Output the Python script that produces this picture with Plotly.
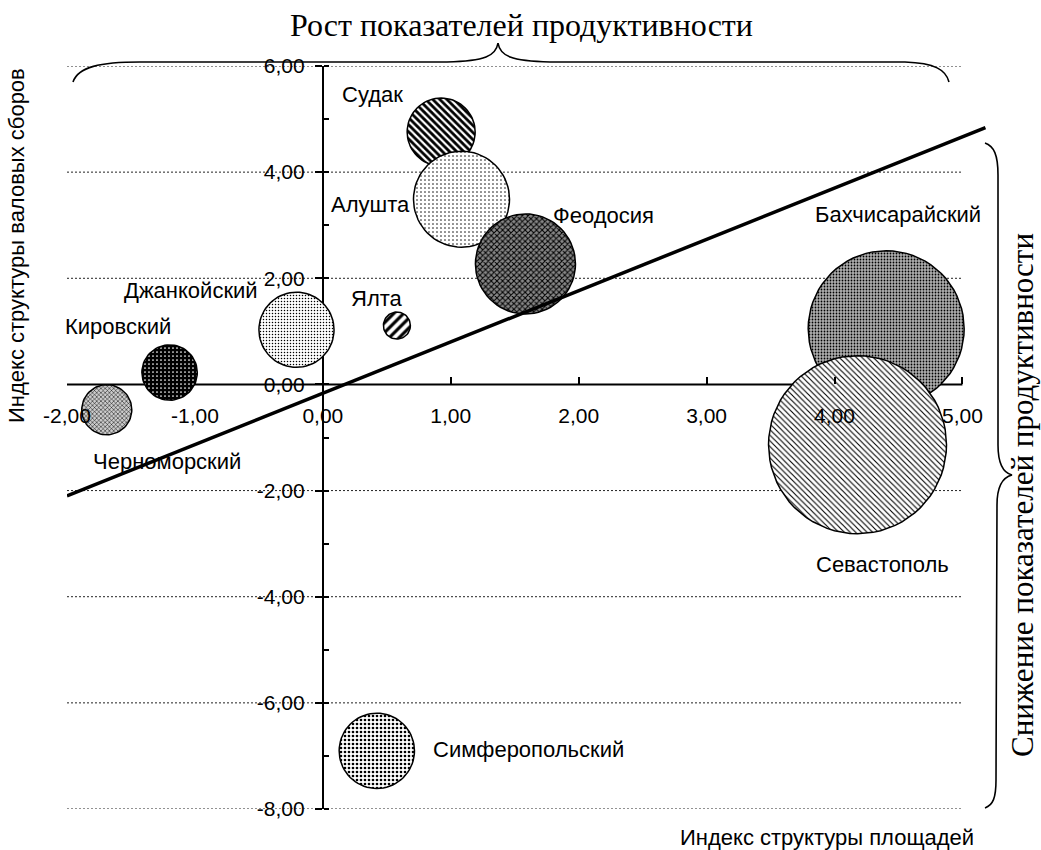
import numpy as np
import plotly.graph_objects as go

# ---------------- data ----------------
districts = ["Судак", "Алушта", "Феодосия", "Бахчисарайский", "Севастополь",
             "Ялта", "Джанкойский", "Кировский", "Черноморский", "Симферопольский"]
area_index = [0.925, 1.084, 1.584, 4.404, 4.18, 0.579, -0.206, -1.198, -1.689, 0.422]
yield_index = [4.756, 3.49, 2.27, 1.05, -1.136, 1.11, 1.03, 0.224, -0.477, -6.904]
bubble_size = [14.6, 29.1, 31.6, 76.8, 100.0, 2.3, 17.8, 9.7, 7.9, 17.9]

trend_x = [-2.0, 5.18]
trend_y = [-2.10, 4.84]

x_tickvals = [-2, -1, 0, 1, 2, 3, 4, 5]
x_ticktext = ["-2,00", "-1,00", "0,00", "1,00", "2,00", "3,00", "4,00", "5,00"]
y_tickvals = [-8, -6, -4, -2, 0, 2, 4, 6]
y_ticktext = ["-8,00", "-6,00", "-4,00", "-2,00", "0,00", "2,00", "4,00", "6,00"]

# ---------------- layout geometry ----------------
W, H = 1041, 850
ML, MR, MT, MB = 67, 53, 66, 41
XR = [-2.0, 5.2]
YR = [-8.0, 6.0]
PW, PH = W - ML - MR, H - MT - MB
px_x = PW / (XR[1] - XR[0])
px_y = PH / (YR[1] - YR[0])
MAX_R = 89.0  # radius in px of the largest bubble

def px2paper(px, py):
    return (px - ML) / PW, (H - MB - py) / PH

sans = "Arial, Liberation Sans, sans-serif"
serif = "Times New Roman, Liberation Serif, serif"

patterns = [
    dict(shape="\\", fgcolor="black", bgcolor="white", size=5, solidity=0.55),
    dict(shape=".", fgcolor="black", bgcolor="white", size=4, solidity=0.12),
    dict(shape="x", fgcolor="black", bgcolor="#888", size=4, solidity=0.45),
    dict(shape=".", fgcolor="black", bgcolor="#b0b0b0", size=3, solidity=0.28),
    dict(shape="\\", fgcolor="black", bgcolor="white", size=4, solidity=0.28),
    dict(shape="/", fgcolor="black", bgcolor="white", size=7, solidity=0.45),
    dict(shape=".", fgcolor="black", bgcolor="white", size=3, solidity=0.2),
    dict(shape=".", fgcolor="white", bgcolor="black", size=4, solidity=0.15),
    dict(shape="x", fgcolor="black", bgcolor="#ccc", size=3, solidity=0.3),
    dict(shape=".", fgcolor="black", bgcolor="white", size=4, solidity=0.35),
]
# label offsets in px (right, up)
label_shift = [(-69, 38), (-91, -5), (78, 48), (12, 114), (25, -120),
               (-20, 27), (-105, 39), (-52, 46), (60, -52), (152, 1)]

fig = go.Figure()

smax = max(bubble_size)
t = np.linspace(0, 2 * np.pi, 73)
for name, cx, cy, s, pat in zip(districts, area_index, yield_index, bubble_size, patterns):
    r = MAX_R * np.sqrt(s / smax)
    xs = cx + r / px_x * np.cos(t)
    ys = cy + r / px_y * np.sin(t)
    fig.add_trace(go.Scatter(
        x=xs, y=ys, mode="lines", fill="toself", name=name,
        line=dict(color="black", width=1.5),
        fillpattern=dict(fillmode="replace", **pat),
        hoverinfo="skip", showlegend=False))

fig.add_trace(go.Scatter(x=trend_x, y=trend_y, mode="lines",
                         line=dict(color="black", width=3.5),
                         showlegend=False, hoverinfo="skip"))

# data labels
for name, cx, cy, (dx, dy) in zip(districts, area_index, yield_index, label_shift):
    fig.add_annotation(x=cx, y=cy, text=name, showarrow=False,
                       xshift=dx, yshift=dy, xanchor="center", yanchor="middle",
                       font=dict(family=sans, size=22, color="black"))

shapes = []
# dotted horizontal gridlines
for yv in y_tickvals:
    if yv == 0:
        continue
    shapes.append(dict(type="line", xref="x", yref="y", x0=x_tickvals[0], x1=x_tickvals[-1],
                       y0=yv, y1=yv, layer="below",
                       line=dict(color="#222", width=1, dash="2px,2px")))
# x axis line at y = 0
shapes.append(dict(type="line", xref="x", yref="y", x0=x_tickvals[0], x1=x_tickvals[-1],
                   y0=0, y1=0, layer="below", line=dict(color="black", width=2)))

def path_from_px(cmds):
    out = []
    for c in cmds:
        if isinstance(c, str):
            out.append(c)
        else:
            px, py = px2paper(*c)
            out.append(f"{px:.5f},{py:.5f}")
    return " ".join(out)

top_brace = path_from_px(["M", (73, 82), "C", (78, 67), (100, 62), (140, 62), "L", (447, 62),
                          "C", (485, 61), (496, 56), (498, 43),
                          "C", (500, 56), (511, 61), (550, 62), "L", (905, 62),
                          "C", (935, 63), (946, 70), (949, 82)])
right_brace = path_from_px(["M", (985, 143), "C", (994, 146), (998, 155), (998, 175), "L", (998, 445),
                            "C", (998, 465), (1004, 473), (1012, 475),
                            "C", (1004, 477), (997, 485), (997, 505), "L", (996, 780),
                            "C", (996, 798), (993, 805), (985, 808)])
for p in (top_brace, right_brace):
    shapes.append(dict(type="path", xref="paper", yref="paper", path=p,
                       line=dict(color="black", width=1.6)))

fig.update_layout(shapes=shapes)

# titles
tx, ty = px2paper(521, 25)
fig.add_annotation(x=tx, y=ty, xref="paper", yref="paper", text="Рост показателей продуктивности",
                   showarrow=False, xanchor="center", yanchor="middle",
                   font=dict(family=serif, size=32, color="black"))
rx, ry = px2paper(1022, 495)
fig.add_annotation(x=rx, y=ry, xref="paper", yref="paper", text="Снижение показателей продуктивности",
                   showarrow=False, xanchor="center", yanchor="middle", textangle=-90,
                   font=dict(family=serif, size=31, color="black"))
yx, yy = px2paper(17, 246)
fig.add_annotation(x=yx, y=yy, xref="paper", yref="paper", text="Индекс структуры валовых сборов",
                   showarrow=False, xanchor="center", yanchor="middle", textangle=-90,
                   font=dict(family=sans, size=22, color="black"))
xx, xy = px2paper(827, 837)
fig.add_annotation(x=xx, y=xy, xref="paper", yref="paper", text="Индекс структуры площадей",
                   showarrow=False, xanchor="center", yanchor="middle",
                   font=dict(family=sans, size=22, color="black"))

fig.update_layout(
    template="none",
    width=W, height=H,
    margin=dict(l=ML, r=MR, t=MT, b=MB, pad=0, autoexpand=False),
    paper_bgcolor="white", plot_bgcolor="white",
    showlegend=False,
    xaxis=dict(range=XR, anchor="free", position=(0 - YR[0]) / (YR[1] - YR[0]),
               automargin=False,
               showgrid=False, zeroline=False, showline=False,
               tickmode="array", tickvals=x_tickvals, ticktext=x_ticktext,
               ticks="inside", ticklen=7, tickwidth=2, tickcolor="black",
               ticklabelstandoff=17, layer="above traces",
               tickfont=dict(family=sans, size=21, color="black")),
    yaxis=dict(range=YR, anchor="free", position=(0 - XR[0]) / (XR[1] - XR[0]),
               automargin=False,
               showgrid=False, zeroline=False, showline=True, linecolor="black", linewidth=2,
               tickmode="array", tickvals=y_tickvals, ticktext=y_ticktext,
               ticks="outside", ticklen=7, tickwidth=2, tickcolor="black",
               ticklabelstandoff=6, layer="below traces",
               minor=dict(tickmode="linear", dtick=1, ticks="inside", ticklen=5,
                          tickwidth=2, tickcolor="black"),
               tickfont=dict(family=sans, size=21, color="black")),
)

fig.write_html("out.html", config={"displayModeBar": False},
               post_script="document.body.style.margin='0';document.body.style.padding='0';")
